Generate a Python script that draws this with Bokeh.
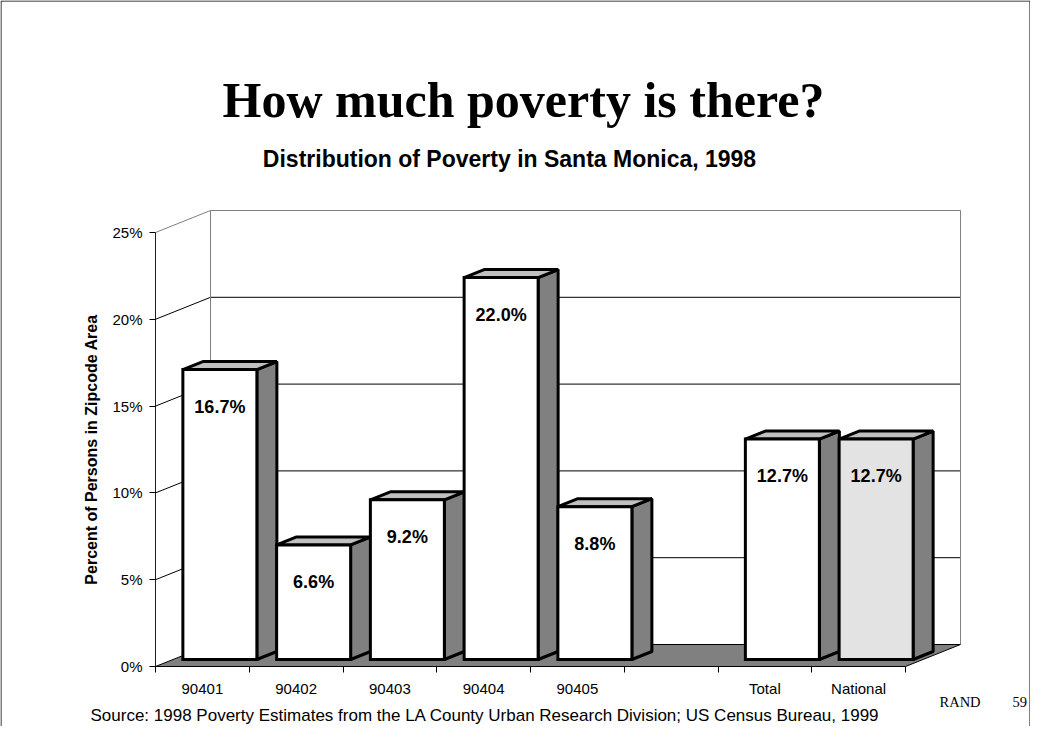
from bokeh.plotting import figure
from bokeh.models import LinearAxis, FixedTicker, PrintfTickFormatter
from bokeh.core.properties import value
from bokeh.embed import file_html
from bokeh.resources import INLINE

# ---------------- data ----------------
categories = ["90401", "90402", "90403", "90404", "90405", "", "Total", "National"]
poverty_pct = [16.7, 6.6, 9.2, 22.0, 8.8, None, 12.7, 12.7]
front_colors = ["white", "white", "white", "white", "white", None, "white", "#e3e3e3"]
y_ticks = [0, 5, 10, 15, 20, 25]

title_text = "How much poverty is there?"
subtitle_text = "Distribution of Poverty in Santa Monica, 1998"
y_label = "Percent of Persons in Zipcode Area"
source_text = "Source:  1998 Poverty Estimates from the LA County Urban Research Division; US Census Bureau, 1999"

# ---------------- layout ----------------
W, H = 1030, 726
PX_CAT = 93.75          # pixels per category
PX_PCT = 17.36          # pixels per percent
ORIG_X, ORIG_Y = 155, 666   # canvas pixel of (0, 0%)

def dxp(px):
    return (px - ORIG_X) / PX_CAT

def dyp(py):
    return (ORIG_Y - py) / PX_PCT

x0, x1 = dxp(0), dxp(W)
y0, y1 = dyp(H), dyp(0)

DEPTH_X = 55 / PX_CAT
DEPTH_Y = 22 / PX_PCT
F0, F1 = 7 / 22, 15 / 22
BAR_W = 74 / PX_CAT
N = len(categories)
Y_MAX = y_ticks[-1]

p = figure(width=W, height=H, x_range=(x0, x1), y_range=(y0, y1),
           output_backend="svg", toolbar_location=None, title=None,
           x_axis_location=None, y_axis_location=None, min_border=0)
p.xgrid.visible = False
p.ygrid.visible = False
p.outline_line_color = None
p.background_fill_color = "white"
p.border_fill_color = "white"

# ---------------- walls & floor ----------------
p.patch([0, N, N + DEPTH_X, DEPTH_X], [0, 0, DEPTH_Y, DEPTH_Y],
        fill_color="#808080", line_color="black", line_width=1)

for t in y_ticks[1:]:
    col = "#808080" if t == Y_MAX else "black"
    p.line([DEPTH_X, N + DEPTH_X], [t + DEPTH_Y, t + DEPTH_Y], line_color=col, line_width=1)
    p.line([0, DEPTH_X], [t, t + DEPTH_Y], line_color=col, line_width=1)
p.line([DEPTH_X, DEPTH_X], [DEPTH_Y, Y_MAX + DEPTH_Y], line_color="#808080", line_width=1)
p.line([N + DEPTH_X, N + DEPTH_X], [DEPTH_Y, Y_MAX + DEPTH_Y], line_color="#808080", line_width=1)

# ---------------- bars ----------------
for i, (v, fc) in enumerate(zip(poverty_pct, front_colors)):
    if v is None:
        continue
    c = i + 0.5
    xl, xr = c - BAR_W / 2, c + BAR_W / 2
    ax, ay = F0 * DEPTH_X, F0 * DEPTH_Y
    bx, by = F1 * DEPTH_X, F1 * DEPTH_Y
    p.patch([xr + ax, xr + bx, xr + bx, xr + ax], [ay, by, v + by, v + ay],
            fill_color="#808080", line_color="black", line_width=3, line_join="bevel")
    p.patch([xl + ax, xr + ax, xr + bx, xl + bx], [v + ay, v + ay, v + by, v + by],
            fill_color="#c0c0c0", line_color="black", line_width=3, line_join="bevel")
    p.quad(left=xl + ax, right=xr + ax, bottom=ay, top=v + ay,
           fill_color=fc, line_color="black", line_width=3, line_join="miter")
    p.text(x=[c + ax], y=[v + ay], text=[f"{v:.1f}%"], y_offset=37,
           text_align="center", text_baseline="middle",
           text_font=value("Liberation Sans"), text_font_style="bold",
           text_font_size="18px", text_color="black")

# ---------------- axes ----------------
yax = LinearAxis(fixed_location=0, bounds=(0, Y_MAX),
                 ticker=FixedTicker(ticks=y_ticks),
                 formatter=PrintfTickFormatter(format="%d%%"))
yax.axis_line_color = "#202020"
yax.major_tick_out = 6
yax.major_tick_in = 0
yax.minor_tick_line_color = None
yax.major_label_standoff = 7
yax.major_label_text_font = "Liberation Sans"
yax.major_label_text_font_size = "15px"
yax.major_label_text_color = "black"
yax.axis_label = y_label
yax.axis_label_text_font = "Liberation Sans"
yax.axis_label_text_font_style = "bold"
yax.axis_label_text_font_size = "16px"
yax.axis_label_text_color = "black"
yax.axis_label_standoff = 9
p.add_layout(yax, "left")

centers = [i + 0.5 for i in range(N)]
xax = LinearAxis(fixed_location=0, bounds=(0, N),
                 ticker=FixedTicker(ticks=centers, minor_ticks=list(range(N + 1))),
                 major_label_overrides={c: lab for c, lab in zip(centers, categories)})
xax.axis_line_color = "black"
xax.major_tick_line_color = None
xax.minor_tick_line_color = "black"
xax.minor_tick_out = 6
xax.minor_tick_in = 0
xax.major_label_standoff = 7
xax.major_label_text_font = "Liberation Sans"
xax.major_label_text_font_size = "15px"
xax.major_label_text_color = "black"
p.add_layout(xax, "below")

# ---------------- texts ----------------
p.text(x=[dxp(523)], y=[dyp(99)], text=[title_text], text_align="center", text_baseline="middle",
       text_font=value("Liberation Serif"), text_font_style="bold", text_font_size="50px", text_color="black")
p.text(x=[dxp(509)], y=[dyp(158)], text=[subtitle_text], text_align="center", text_baseline="middle",
       text_font=value("Liberation Sans"), text_font_style="bold", text_font_size="23px", text_color="black")
p.text(x=[dxp(90)], y=[dyp(715)], text=[source_text], text_align="left", text_baseline="middle",
       text_font=value("Liberation Sans"), text_font_size="17px", text_color="black")
p.text(x=[dxp(939), dxp(1012)], y=[dyp(701), dyp(701)], text=["RAND", "59"], text_align="left",
       text_baseline="middle", text_font=value("Liberation Serif"), text_font_size="14.5px", text_color="black")

# slide frame (left, top, right)
ex = 0.5 / PX_CAT
ey = 0.5 / PX_PCT
p.line([x0 + ex, x0 + ex, x1 - ex, x1 - ex], [y0, y1 - ey, y1 - ey, y0], line_color="black", line_width=1)

open("out.html", "w").write(file_html(p, INLINE))
